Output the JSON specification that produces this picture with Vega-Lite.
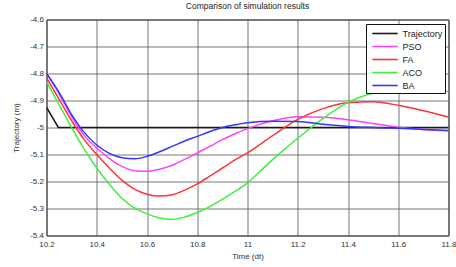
{
  "$schema": "https://vega.github.io/schema/vega-lite/v6.json",
  "autosize": "none",
  "width": 402,
  "height": 216,
  "padding": {"left": 46.5, "top": 19.5, "right": 7.5, "bottom": 31.5},
  "background": "white",
  "title": {"text": "Comparison of simulation results", "fontSize": 8.5, "font": "Liberation Sans", "fontWeight": "normal", "color": "#222", "offset": 5},
  "config": {
    "view": {"stroke": "#222", "strokeWidth": 1},
    "axis": {"labelFont": "Liberation Sans", "titleFont": "Liberation Sans", "labelFontSize": 8, "titleFontSize": 8, "titleFontWeight": "normal", "labelColor": "#333", "titleColor": "#333", "gridColor": "#555", "gridOpacity": 0.8, "gridWidth": 1, "ticks": false, "domain": false}
  },
  "datasets": {
    "traj": [
      {"t": 10.2, "y": -4.925, "s": "Trajectory"},
      {"t": 10.247, "y": -5.0, "s": "Trajectory"},
      {"t": 11.8, "y": -5.0, "s": "Trajectory"}
    ],
    "algs": [
      {"t": 10.2, "y": -4.80, "s": "PSO"},
      {"t": 10.25, "y": -4.875, "s": "PSO"},
      {"t": 10.3, "y": -4.96, "s": "PSO"},
      {"t": 10.35, "y": -5.03, "s": "PSO"},
      {"t": 10.4, "y": -5.076, "s": "PSO"},
      {"t": 10.45, "y": -5.115, "s": "PSO"},
      {"t": 10.5, "y": -5.144, "s": "PSO"},
      {"t": 10.55, "y": -5.16, "s": "PSO"},
      {"t": 10.6, "y": -5.162, "s": "PSO"},
      {"t": 10.65, "y": -5.155, "s": "PSO"},
      {"t": 10.7, "y": -5.14, "s": "PSO"},
      {"t": 10.75, "y": -5.118, "s": "PSO"},
      {"t": 10.8, "y": -5.094, "s": "PSO"},
      {"t": 10.85, "y": -5.07, "s": "PSO"},
      {"t": 10.9, "y": -5.045, "s": "PSO"},
      {"t": 10.95, "y": -5.023, "s": "PSO"},
      {"t": 11.0, "y": -5.004, "s": "PSO"},
      {"t": 11.1, "y": -4.975, "s": "PSO"},
      {"t": 11.2, "y": -4.96, "s": "PSO"},
      {"t": 11.3, "y": -4.962, "s": "PSO"},
      {"t": 11.4, "y": -4.971, "s": "PSO"},
      {"t": 11.5, "y": -4.985, "s": "PSO"},
      {"t": 11.6, "y": -4.999, "s": "PSO"},
      {"t": 11.7, "y": -5.007, "s": "PSO"},
      {"t": 11.8, "y": -5.012, "s": "PSO"},
      {"t": 10.2, "y": -4.816, "s": "FA"},
      {"t": 10.25, "y": -4.895, "s": "FA"},
      {"t": 10.3, "y": -4.975, "s": "FA"},
      {"t": 10.35, "y": -5.045, "s": "FA"},
      {"t": 10.4, "y": -5.10, "s": "FA"},
      {"t": 10.45, "y": -5.15, "s": "FA"},
      {"t": 10.5, "y": -5.195, "s": "FA"},
      {"t": 10.55, "y": -5.228, "s": "FA"},
      {"t": 10.6, "y": -5.247, "s": "FA"},
      {"t": 10.65, "y": -5.254, "s": "FA"},
      {"t": 10.7, "y": -5.249, "s": "FA"},
      {"t": 10.75, "y": -5.232, "s": "FA"},
      {"t": 10.8, "y": -5.209, "s": "FA"},
      {"t": 10.85, "y": -5.18, "s": "FA"},
      {"t": 10.9, "y": -5.15, "s": "FA"},
      {"t": 10.95, "y": -5.12, "s": "FA"},
      {"t": 11.0, "y": -5.094, "s": "FA"},
      {"t": 11.1, "y": -5.03, "s": "FA"},
      {"t": 11.2, "y": -4.97, "s": "FA"},
      {"t": 11.3, "y": -4.93, "s": "FA"},
      {"t": 11.4, "y": -4.908, "s": "FA"},
      {"t": 11.5, "y": -4.905, "s": "FA"},
      {"t": 11.6, "y": -4.918, "s": "FA"},
      {"t": 11.7, "y": -4.938, "s": "FA"},
      {"t": 11.8, "y": -4.961, "s": "FA"},
      {"t": 10.2, "y": -4.83, "s": "ACO"},
      {"t": 10.25, "y": -4.915, "s": "ACO"},
      {"t": 10.3, "y": -5.0, "s": "ACO"},
      {"t": 10.35, "y": -5.08, "s": "ACO"},
      {"t": 10.4, "y": -5.15, "s": "ACO"},
      {"t": 10.45, "y": -5.21, "s": "ACO"},
      {"t": 10.5, "y": -5.262, "s": "ACO"},
      {"t": 10.55, "y": -5.298, "s": "ACO"},
      {"t": 10.6, "y": -5.32, "s": "ACO"},
      {"t": 10.65, "y": -5.335, "s": "ACO"},
      {"t": 10.7, "y": -5.34, "s": "ACO"},
      {"t": 10.75, "y": -5.332, "s": "ACO"},
      {"t": 10.8, "y": -5.315, "s": "ACO"},
      {"t": 10.85, "y": -5.293, "s": "ACO"},
      {"t": 10.9, "y": -5.266, "s": "ACO"},
      {"t": 10.95, "y": -5.237, "s": "ACO"},
      {"t": 11.0, "y": -5.205, "s": "ACO"},
      {"t": 11.05, "y": -5.162, "s": "ACO"},
      {"t": 11.1, "y": -5.119, "s": "ACO"},
      {"t": 11.15, "y": -5.078, "s": "ACO"},
      {"t": 11.2, "y": -5.04, "s": "ACO"},
      {"t": 11.3, "y": -4.967, "s": "ACO"},
      {"t": 11.4, "y": -4.907, "s": "ACO"},
      {"t": 11.5, "y": -4.872, "s": "ACO"},
      {"t": 11.6, "y": -4.857, "s": "ACO"},
      {"t": 11.7, "y": -4.856, "s": "ACO"},
      {"t": 11.8, "y": -4.868, "s": "ACO"},
      {"t": 10.2, "y": -4.80, "s": "BA"},
      {"t": 10.25, "y": -4.87, "s": "BA"},
      {"t": 10.3, "y": -4.952, "s": "BA"},
      {"t": 10.35, "y": -5.018, "s": "BA"},
      {"t": 10.4, "y": -5.065, "s": "BA"},
      {"t": 10.45, "y": -5.096, "s": "BA"},
      {"t": 10.5, "y": -5.112, "s": "BA"},
      {"t": 10.55, "y": -5.116, "s": "BA"},
      {"t": 10.6, "y": -5.107, "s": "BA"},
      {"t": 10.65, "y": -5.09, "s": "BA"},
      {"t": 10.7, "y": -5.07, "s": "BA"},
      {"t": 10.75, "y": -5.05, "s": "BA"},
      {"t": 10.8, "y": -5.033, "s": "BA"},
      {"t": 10.85, "y": -5.015, "s": "BA"},
      {"t": 10.9, "y": -5.0, "s": "BA"},
      {"t": 10.95, "y": -4.99, "s": "BA"},
      {"t": 11.0, "y": -4.982, "s": "BA"},
      {"t": 11.1, "y": -4.977, "s": "BA"},
      {"t": 11.2, "y": -4.978, "s": "BA"},
      {"t": 11.3, "y": -4.988, "s": "BA"},
      {"t": 11.4, "y": -4.996, "s": "BA"},
      {"t": 11.5, "y": -5.0, "s": "BA"},
      {"t": 11.6, "y": -5.003, "s": "BA"},
      {"t": 11.7, "y": -5.007, "s": "BA"},
      {"t": 11.8, "y": -5.011, "s": "BA"}
    ]
  },
  "encoding": {
    "x": {"field": "t", "type": "quantitative", "scale": {"domain": [10.2, 11.8], "nice": false, "zero": false},
      "axis": {"values": [10.2, 10.4, 10.6, 10.8, 11, 11.2, 11.4, 11.6, 11.8], "format": "~g", "title": "Time (dt)", "labelPadding": 5, "titlePadding": 4, "labelFlush": false}},
    "y": {"field": "y", "type": "quantitative", "scale": {"domain": [-5.4, -4.6], "nice": false, "zero": false},
      "axis": {"values": [-5.4, -5.3, -5.2, -5.1, -5, -4.9, -4.8, -4.7, -4.6], "format": "~g", "labelExpr": "replace(datum.label, '\u2212', '-')", "title": "Trajectory (m)", "labelPadding": 3, "titlePadding": 9}},
    "color": {"field": "s", "type": "nominal",
      "scale": {"domain": ["Trajectory", "PSO", "FA", "ACO", "BA"], "range": ["#1a1a1a", "#ff40ff", "#ff3535", "#40ee40", "#3535ff"]},
      "legend": {"title": null, "orient": "none", "legendX": 319.5, "legendY": 4.5, "fillColor": "white", "strokeColor": "#111", "padding": 2,
        "symbolType": "M-0.5,0H3.5", "symbolSize": 160, "symbolStrokeWidth": 1.6, "labelFontSize": 9, "labelFont": "Liberation Sans", "labelColor": "#222", "rowPadding": 0, "labelOffset": 19.5}}
  },
  "layer": [
    {"data": {"name": "traj"}, "mark": {"type": "line", "strokeWidth": 1.5, "clip": true}},
    {"data": {"name": "algs"}, "mark": {"type": "line", "strokeWidth": 1.5, "interpolate": "monotone", "clip": true}}
  ]
}
